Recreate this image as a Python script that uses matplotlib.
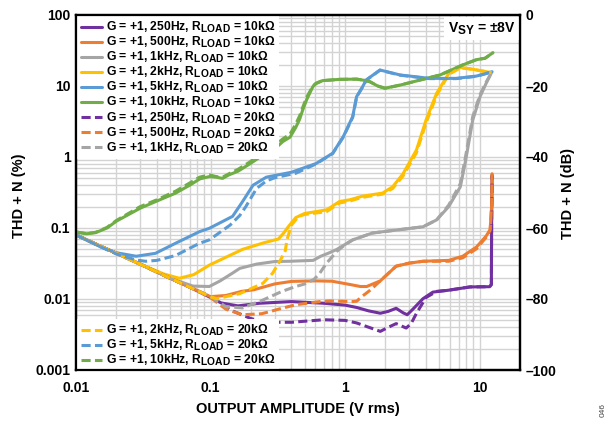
import matplotlib
matplotlib.use('Agg')
import matplotlib.pyplot as plt
from matplotlib.ticker import LogLocator, NullFormatter, FixedLocator, FixedFormatter
try:
    import matplotlib._mathtext as _mt
    _mt.SHRINK_FACTOR = 0.85
except Exception:
    pass

plt.rcParams['font.family'] = ['Liberation Sans', 'DejaVu Sans']
plt.rcParams['font.weight'] = 'bold'
plt.rcParams['mathtext.fontset'] = 'custom'
plt.rcParams['mathtext.rm'] = 'Liberation Sans:bold'
plt.rcParams['mathtext.bf'] = 'Liberation Sans:bold'
plt.rcParams['mathtext.it'] = 'Liberation Sans:bold'
plt.rcParams['mathtext.default'] = 'bf'

# ---------------- data (V rms, THD+N %) ----------------
v_250_10k = [0.01, 0.015, 0.02, 0.03, 0.05, 0.07, 0.1, 0.12, 0.16, 0.23, 0.4, 0.7, 1.0, 1.22, 1.5,
             1.83, 2.1, 2.4, 2.7, 2.9, 3.2, 3.8, 4.5, 5.9, 8.5, 11.9, 12.25, 12.3, 12.4]
p_250_10k = [0.08, 0.056, 0.044, 0.031, 0.0197, 0.0147, 0.0105, 0.0088, 0.0080, 0.0087, 0.0092, 0.0087,
             0.0082, 0.0076, 0.0068, 0.0063, 0.0067, 0.0074, 0.0064, 0.0060, 0.0072, 0.0101, 0.0125,
             0.0133, 0.0148, 0.0149, 0.0160, 0.10, 0.55]

v_500_10k = [0.01, 0.015, 0.02, 0.03, 0.05, 0.07, 0.1, 0.13, 0.17, 0.21, 0.3, 0.4, 0.6, 0.8, 1.09,
             1.3, 1.45, 1.83, 2.4, 3.0, 3.8, 5.9, 7.5, 9.5, 11.2, 12.0, 12.3, 12.4]
p_500_10k = [0.08, 0.056, 0.044, 0.031, 0.0197, 0.0147, 0.0108, 0.0112, 0.0128, 0.0135, 0.0163,
             0.0177, 0.0180, 0.0178, 0.0160, 0.0150, 0.0150, 0.018, 0.029, 0.032, 0.034, 0.035,
             0.040, 0.054, 0.077, 0.095, 0.2, 0.58]

v_1k_10k = [0.01, 0.015, 0.02, 0.03, 0.05, 0.074, 0.098, 0.118, 0.146, 0.165, 0.22, 0.3, 0.39, 0.58,
            0.66, 0.77, 0.87, 1.14, 1.6, 2.57, 3.8, 4.8, 5.9, 7.2, 7.9, 8.9, 10.1, 11.2, 12.3]
p_1k_10k = [0.08, 0.056, 0.044, 0.031, 0.0197, 0.0152, 0.0150, 0.018, 0.0232, 0.027, 0.031, 0.0337,
            0.034, 0.035, 0.040, 0.045, 0.050, 0.068, 0.085, 0.095, 0.104, 0.13, 0.20, 0.38, 0.91,
            3.3, 7.1, 10.9, 15.5]

v_2k_10k = [0.01, 0.015, 0.02, 0.03, 0.045, 0.0586, 0.075, 0.098, 0.135, 0.173, 0.25, 0.32, 0.35,
            0.38, 0.43, 0.5, 0.73, 0.91, 1.09, 1.34, 1.9, 2.26, 2.7, 3.4, 4.0, 4.8, 5.9, 7.2, 8.9, 12.3]
p_2k_10k = [0.08, 0.056, 0.044, 0.031, 0.0225, 0.0196, 0.022, 0.030, 0.040, 0.050, 0.062, 0.070,
            0.085, 0.105, 0.14, 0.16, 0.18, 0.236, 0.25, 0.28, 0.31, 0.38, 0.58, 1.26, 3.3, 7.9,
            15.0, 18.3, 17.2, 15.4]

v_5k_10k = [0.01, 0.015, 0.0198, 0.028, 0.039, 0.055, 0.083, 0.098, 0.146, 0.173, 0.207, 0.26, 0.4,
            0.61, 0.81, 0.97, 1.14, 1.22, 1.34, 1.44, 1.82, 2.57, 4.26, 6.7, 9.5, 12.4]
p_5k_10k = [0.08, 0.055, 0.045, 0.040, 0.044, 0.061, 0.089, 0.099, 0.146, 0.235, 0.40, 0.52, 0.61,
            0.81, 1.13, 1.93, 3.7, 7.1, 9.5, 12.2, 16.8, 14.3, 12.8, 12.8, 13.8, 15.9]

v_10k_10k = [0.01, 0.012, 0.014, 0.017, 0.02, 0.03, 0.04, 0.055, 0.07, 0.083, 0.098, 0.11, 0.123,
             0.137, 0.16, 0.196, 0.217, 0.25, 0.3, 0.345, 0.39, 0.43, 0.46, 0.485, 0.52, 0.577,
             0.61, 0.68, 0.91, 1.22, 1.4, 1.53, 1.75, 1.98, 2.57, 3.78, 5.09, 7.5, 9.5, 11.0, 12.6]
p_10k_10k = [0.088, 0.083, 0.086, 0.10, 0.125, 0.19, 0.24, 0.31, 0.40, 0.49, 0.53, 0.52, 0.50,
             0.56, 0.63, 0.80, 0.91, 1.1, 1.3, 1.65, 1.9, 2.6, 3.4, 4.6, 6.5, 9.8, 10.8, 11.9,
             12.4, 12.5, 12.0, 11.5, 10.0, 9.3, 10.3, 12.4, 14.3, 19.8, 23.5, 24.6, 29.5]

v_250_20k = [0.01, 0.015, 0.02, 0.03, 0.05, 0.07, 0.1, 0.14, 0.2, 0.26, 0.4, 0.69, 1.0, 1.22, 1.5,
             1.83, 2.1, 2.4, 2.85, 3.1, 3.4, 4.0, 4.8, 5.9, 8.5, 11.9, 12.25, 12.3, 12.4]
p_250_20k = [0.08, 0.056, 0.044, 0.031, 0.0197, 0.0147, 0.0108, 0.0070, 0.0053, 0.0047, 0.0047,
             0.0051, 0.0050, 0.0046, 0.0040, 0.0035, 0.0040, 0.0045, 0.0039, 0.0045, 0.0063,
             0.0105, 0.0128, 0.0133, 0.0148, 0.0149, 0.016, 0.10, 0.55]

v_500_20k = [0.01, 0.015, 0.02, 0.03, 0.05, 0.07, 0.1, 0.13, 0.173, 0.24, 0.34, 0.43, 0.65, 0.77,
             1.14, 1.22, 1.35, 1.53, 1.83, 2.4, 3.0, 3.8, 5.9, 7.5, 9.5, 11.2, 12.0, 12.3, 12.4]
p_500_20k = [0.08, 0.056, 0.044, 0.031, 0.0197, 0.0147, 0.0105, 0.0072, 0.0060, 0.0062, 0.0074,
             0.0083, 0.0092, 0.0094, 0.0092, 0.0093, 0.0110, 0.0132, 0.018, 0.029, 0.032, 0.034,
             0.034, 0.038, 0.051, 0.074, 0.093, 0.2, 0.58]

v_1k_20k = [0.01, 0.015, 0.02, 0.03, 0.05, 0.07, 0.1, 0.13, 0.173, 0.24, 0.34, 0.43, 0.52, 0.59,
            0.65, 0.73, 0.87, 1.0, 1.14, 1.6, 2.57, 3.8, 4.8, 5.9, 7.2, 7.9, 8.9, 10.1, 11.2, 12.3]
p_1k_20k = [0.08, 0.056, 0.044, 0.031, 0.0197, 0.0147, 0.0108, 0.0078, 0.0075, 0.0095, 0.0128,
            0.0150, 0.0166, 0.019, 0.0232, 0.032, 0.047, 0.058, 0.068, 0.085, 0.095, 0.104, 0.13,
            0.21, 0.42, 1.05, 3.7, 7.6, 11.3, 15.5]

v_2k_20k = [0.01, 0.015, 0.02, 0.03, 0.05, 0.07, 0.1, 0.111, 0.165, 0.245, 0.29, 0.33, 0.36, 0.37,
            0.4, 0.45, 0.5, 0.73, 0.91, 1.09, 1.34, 1.9, 2.26, 2.7, 3.4, 4.0, 4.8, 5.9, 7.2, 8.9, 12.3]
p_2k_20k = [0.08, 0.056, 0.044, 0.031, 0.0197, 0.0147, 0.0108, 0.0101, 0.0119, 0.0166, 0.0232,
            0.035, 0.048, 0.068, 0.11, 0.145, 0.155, 0.17, 0.225, 0.24, 0.27, 0.30, 0.36, 0.54,
            1.15, 3.0, 7.4, 14.5, 18.0, 17.2, 15.4]

v_5k_20k = [0.01, 0.015, 0.02, 0.028, 0.033, 0.04, 0.055, 0.083, 0.098, 0.14, 0.165, 0.183, 0.22,
            0.26, 0.3, 0.43, 0.61, 0.81, 0.97, 1.14, 1.22, 1.34, 1.44, 1.82, 2.57, 4.26, 6.7, 9.5, 12.4]
p_5k_20k = [0.08, 0.055, 0.043, 0.0354, 0.034, 0.035, 0.041, 0.061, 0.068, 0.11, 0.15, 0.20, 0.36,
            0.46, 0.51, 0.59, 0.80, 1.12, 1.9, 3.6, 7.0, 9.4, 12.1, 16.7, 14.2, 12.7, 12.7, 13.7, 15.8]

v_10k_20k = [0.01, 0.012, 0.014, 0.017, 0.02, 0.03, 0.04, 0.055, 0.07, 0.083, 0.098, 0.11, 0.123,
             0.137, 0.16, 0.196, 0.217, 0.25, 0.3, 0.345, 0.39, 0.43, 0.46, 0.485, 0.52, 0.577,
             0.61, 0.68, 0.91, 1.22, 1.4, 1.53, 1.75, 1.98, 2.57, 3.78, 5.09, 7.5, 9.5, 11.0, 12.6]
p_10k_20k = [0.088, 0.083, 0.087, 0.102, 0.128, 0.20, 0.25, 0.33, 0.43, 0.52, 0.56, 0.53, 0.52,
             0.58, 0.67, 0.85, 0.98, 1.2, 1.45, 1.8, 2.1, 2.9, 3.8, 5.0, 7.0, 10.0, 11.0, 11.9,
             12.4, 12.5, 12.0, 11.5, 10.0, 9.3, 10.3, 12.4, 14.3, 19.8, 23.5, 24.6, 29.5]

labels = [
    'G = +1, 250Hz, R$_{LOAD}$ = 10kΩ',
    'G = +1, 500Hz, R$_{LOAD}$ = 10kΩ',
    'G = +1, 1kHz, R$_{LOAD}$ = 10kΩ',
    'G = +1, 2kHz, R$_{LOAD}$ = 10kΩ',
    'G = +1, 5kHz, R$_{LOAD}$ = 10kΩ',
    'G = +1, 10kHz, R$_{LOAD}$ = 10kΩ',
    'G = +1, 250Hz, R$_{LOAD}$ = 20kΩ',
    'G = +1, 500Hz, R$_{LOAD}$ = 20kΩ',
    'G = +1, 1kHz, R$_{LOAD}$ = 20kΩ',
    'G = +1, 2kHz, R$_{LOAD}$ = 20kΩ',
    'G = +1, 5kHz, R$_{LOAD}$ = 20kΩ',
    'G = +1, 10kHz, R$_{LOAD}$ = 20kΩ',
]

x_ticks = [0.01, 0.1, 1, 10]
x_ticklabels = ['0.01', '0.1', '1', '10']
y_ticks = [0.001, 0.01, 0.1, 1, 10, 100]
y_ticklabels = ['0.001', '0.01', '0.1', '1', '10', '100']
db_ticks = [-100, -80, -60, -40, -20, 0]
db_ticklabels = ['\u2013100', '\u201380', '\u201360', '\u201340', '\u201320', '0']

colors = ['#7030A0', '#ED7D31', '#A5A5A5', '#FFC000', '#5B9BD5', '#70AD47']

series = [
    (v_250_10k, p_250_10k), (v_500_10k, p_500_10k), (v_1k_10k, p_1k_10k),
    (v_2k_10k, p_2k_10k), (v_5k_10k, p_5k_10k), (v_10k_10k, p_10k_10k),
    (v_250_20k, p_250_20k), (v_500_20k, p_500_20k), (v_1k_20k, p_1k_20k),
    (v_2k_20k, p_2k_20k), (v_5k_20k, p_5k_20k), (v_10k_20k, p_10k_20k),
]

# ---------------- figure ----------------
W, H = 615, 424
fig = plt.figure(figsize=(W / 100, H / 100), dpi=100)
L, R, T, B = 76, 520, 15, 370
ax = fig.add_axes([L / W, 1 - B / H, (R - L) / W, (B - T) / H])
ax.set_xscale('log')
ax.set_yscale('log')
ax.set_xlim(0.01, 20)
ax.set_ylim(0.001, 100)

ax.xaxis.set_major_locator(FixedLocator(x_ticks))
ax.xaxis.set_major_formatter(FixedFormatter(x_ticklabels))
ax.yaxis.set_major_locator(FixedLocator(y_ticks))
ax.yaxis.set_major_formatter(FixedFormatter(y_ticklabels))
ax.xaxis.set_minor_locator(LogLocator(base=10, subs=range(2, 10), numticks=20))
ax.yaxis.set_minor_locator(LogLocator(base=10, subs=range(2, 10), numticks=20))
ax.xaxis.set_minor_formatter(NullFormatter())
ax.yaxis.set_minor_formatter(NullFormatter())
ax.grid(True, which='both', color='#d3d3d3', linewidth=1.0)
ax.set_axisbelow(True)
ax.tick_params(which='both', length=0, labelsize=10)
ax.tick_params(axis='x', pad=8)
ax.tick_params(axis='y', pad=4)

handles = []
for i, (v, p) in enumerate(series):
    c = colors[i % 6]
    ls = '-' if i < 6 else (0, (3, 1.4))
    h, = ax.plot(v, p, color=c, lw=2.2, linestyle=ls, solid_capstyle='round',
                 solid_joinstyle='round', label=labels[i], zorder=3)
    handles.append(h)

for s in ax.spines.values():
    s.set_linewidth(1.6)
    s.set_color('black')

ax2 = ax.twinx()
ax2.set_ylim(-100, 0)
ax2.yaxis.set_major_locator(FixedLocator(db_ticks))
ax2.yaxis.set_major_formatter(FixedFormatter(db_ticklabels))
ax2.tick_params(length=0, labelsize=10, pad=4)
for s in ax2.spines.values():
    s.set_linewidth(1.6)

leg_kw = dict(fontsize=8.7, frameon=True, facecolor='white', edgecolor='none', framealpha=1,
              fancybox=False, handlelength=1.75, handletextpad=0.33, borderaxespad=0.1,
              borderpad=0.3, labelspacing=0.0)
leg1 = ax.legend(handles=handles[:9], loc='upper left', **leg_kw)
leg1.set_zorder(5)
ax.add_artist(leg1)
leg2 = ax.legend(handles=handles[9:], loc='lower left', bbox_to_anchor=(0, -3.0 / 355), **leg_kw)
leg2.set_zorder(5)

ax.text(0.99, 0.985, 'V$_{SY}$ = ±8V', transform=ax.transAxes, ha='right', va='top',
        fontsize=10, zorder=6,
        bbox=dict(facecolor='white', edgecolor='none', boxstyle='square,pad=0.25'))

fig.text(298 / W, 1 - 409.5 / H, 'OUTPUT AMPLITUDE (V rms)', ha='center', va='center', fontsize=10.5)
fig.text(19 / W, 1 - 196 / H, 'THD + N (%)', ha='center', va='center', rotation=90, fontsize=10.5)
fig.text(568 / W, 1 - 193 / H, 'THD + N (dB)', ha='center', va='center', rotation=90, fontsize=10.5)
fig.text(603 / W, 1 - 410 / H, '046', ha='center', va='center', rotation=90, fontsize=6,
         fontweight='normal', color='#444444')

fig.savefig('out.png', dpi=100)
